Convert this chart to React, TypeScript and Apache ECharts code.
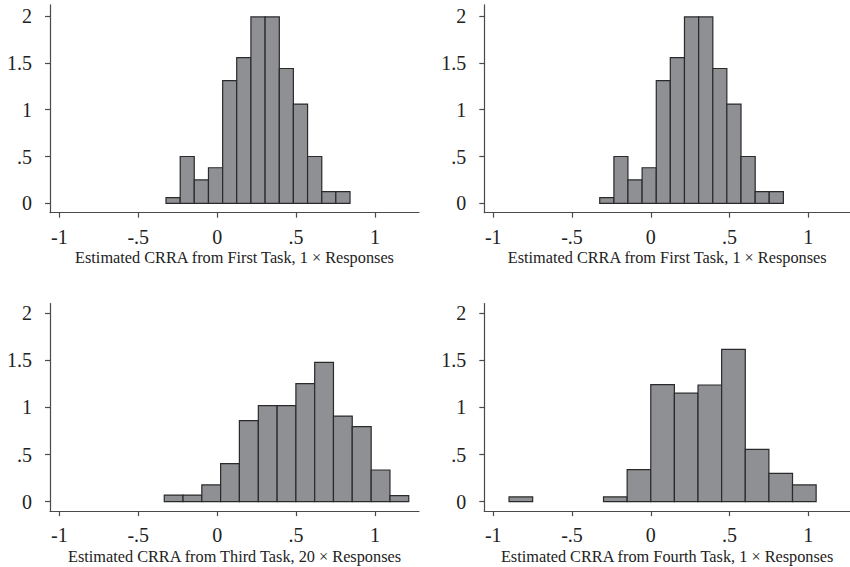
import React, { useEffect, useRef } from "react";
import * as echarts from "echarts";

// Panel 1 & 2: First Task, 1 x Responses (same data)
const edgesFirst = [-0.324, -0.234, -0.145, -0.055, 0.035, 0.124, 0.214, 0.304, 0.394, 0.483, 0.573, 0.663, 0.752, 0.842];
const heightsFirst = [0.06, 0.5, 0.25, 0.38, 1.31, 1.555, 1.99, 1.99, 1.44, 1.06, 0.5, 0.125, 0.125];

// Panel 3: Third Task, 20 x Responses
const edgesThird = [-0.335, -0.216, -0.097, 0.022, 0.141, 0.261, 0.380, 0.499, 0.618, 0.737, 0.856, 0.976, 1.095, 1.214];
const heightsThird = [0.07, 0.07, 0.177, 0.403, 0.859, 1.018, 1.018, 1.251, 1.477, 0.908, 0.795, 0.336, 0.064];

// Panel 4: Fourth Task, 1 x Responses
const edgesFourth = [-0.9, -0.75, -0.6, -0.45, -0.3, -0.15, 0, 0.15, 0.3, 0.45, 0.6, 0.75, 0.9, 1.05];
const heightsFourth = [0.05, 0, 0, 0, 0.05, 0.34, 1.24, 1.15, 1.237, 1.615, 0.555, 0.3, 0.177];

const xTicks = [-1, -0.5, 0, 0.5, 1];
const yTicks = [0, 0.5, 1, 1.5, 2];

const titles = [
  "Estimated CRRA from First Task, 1 \u00d7 Responses",
  "Estimated CRRA from First Task, 1 \u00d7 Responses",
  "Estimated CRRA from Third Task, 20 \u00d7 Responses",
  "Estimated CRRA from Fourth Task, 1 \u00d7 Responses",
];

const FONT = "'Liberation Serif', 'Times New Roman', serif";

function fmt(v: number): string {
  if (v === 0) return "0";
  let s = String(v);
  s = s.replace(/^0\./, ".").replace(/^-0\./, "-.");
  return s;
}

function toData(edges: number[], heights: number[]) {
  const out: number[][] = [];
  for (let i = 0; i < heights.length; i++) {
    if (heights[i] > 0) out.push([edges[i], edges[i + 1], heights[i]]);
  }
  return out;
}

export default function App() {
  const ref = useRef<HTMLDivElement>(null);
  useEffect(() => {
    if (!ref.current) return;
    const chart = echarts.init(ref.current, null, { renderer: "svg" });

    const grids = [
      { left: 50, top: 4.8, width: 369, height: 207.9 },
      { left: 484.3, top: 4.8, width: 365.7, height: 207.9 },
      { left: 50, top: 303.6, width: 369, height: 207.5 },
      { left: 484.3, top: 303.6, width: 365.7, height: 207.5 },
    ];
    const xRanges = [
      [-1.059, 1.279],
      [-1.057, 1.265],
      [-1.059, 1.279],
      [-1.057, 1.265],
    ];
    const yRanges = [
      [-0.1, 2.12],
      [-0.1, 2.12],
      [-0.1, 2.1],
      [-0.1, 2.1],
    ];
    const datasets = [
      toData(edgesFirst, heightsFirst),
      toData(edgesFirst, heightsFirst),
      toData(edgesThird, heightsThird),
      toData(edgesFourth, heightsFourth),
    ];

    const axisLine = { show: true, onZero: false, lineStyle: { color: "#4a4a4a", width: 1.2 } };

    const option: any = {
      animation: false,
      backgroundColor: "#ffffff",
      grid: grids.map((g) => ({ ...g, containLabel: false, outerBoundsMode: "none" })),
      xAxis: grids.map((_, i) => ({
        type: "value",
        gridIndex: i,
        min: xRanges[i][0],
        max: xRanges[i][1],
        axisLine,
        axisTick: { show: true, customValues: xTicks, length: 5, lineStyle: { color: "#4a4a4a", width: 1.2 } },
        axisLabel: {
          customValues: xTicks,
          formatter: (v: number) => fmt(v),
          fontFamily: FONT,
          fontSize: 20,
          color: "#222",
          margin: 14,
        },
        splitLine: { show: false },
        name: titles[i],
        nameLocation: "middle",
        nameGap: 37,
        nameTextStyle: { fontFamily: FONT, fontSize: 16.3, color: "#222" },
      })),
      yAxis: grids.map((_, i) => ({
        type: "value",
        gridIndex: i,
        min: yRanges[i][0],
        max: yRanges[i][1],
        axisLine,
        axisTick: { show: true, customValues: yTicks, length: 5, lineStyle: { color: "#4a4a4a", width: 1.2 } },
        axisLabel: {
          customValues: yTicks,
          formatter: (v: number) => fmt(v),
          fontFamily: FONT,
          fontSize: 20,
          color: "#222",
          margin: 18,
        },
        splitLine: { show: false },
      })),
      series: datasets.map((d, i) => ({
        type: "custom",
        xAxisIndex: i,
        yAxisIndex: i,
        data: d,
        encode: { x: [0, 1], y: 2 },
        renderItem: (params: any, api: any) => {
          const x0 = api.value(0);
          const x1 = api.value(1);
          const h = api.value(2);
          const p0 = api.coord([x0, 0]);
          const p1 = api.coord([x1, h]);
          return {
            type: "rect",
            shape: { x: p0[0], y: p1[1], width: p1[0] - p0[0], height: p0[1] - p1[1] },
            style: { fill: "#8f9094", stroke: "#2a2a2a", lineWidth: 1.2 },
          };
        },
      })),
    };
    chart.setOption(option);
    return () => chart.dispose();
  }, []);

  return (
    <div
      ref={ref}
      style={{ position: "absolute", left: 0, top: 0, width: 850, height: 567, background: "#fff" }}
    />
  );
}
